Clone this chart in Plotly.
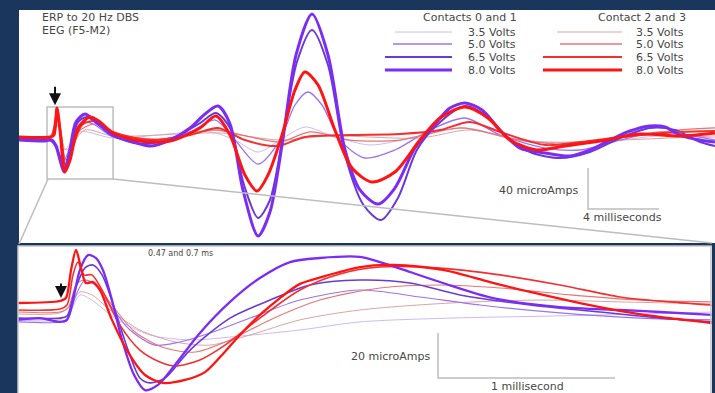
import plotly.graph_objects as go

W, H = 715, 393
NAVY = "#1b365d"
TEXT = "#474747"
FONT = "DejaVu Sans"
GRAY = "#bdbdbd"

def fx(x):
    return x / W

def fy(y):
    return 1 - y / H

# ---------------- top panel: ERP (time in ms, amplitude in microAmps) ----------------
top_t_p80 = [-2.03, -0.56, -0.17, 0.06, 0.28, 0.51, 0.79, 1.18, 1.69, 2.25, 3.27, 4.23, 5.35, 6.48, 7.61, 8.45, 9.18, 9.86, 10.59, 11.44, 12.11, 12.79, 13.58, 14.48, 15.38, 16.34, 17.18, 18.20, 19.15, 20.28, 21.41, 22.25, 23.10, 24.06, 25.07, 26.20, 27.61, 29.01, 30.14, 31.27, 32.39, 33.52, 34.37, 35.21, 36.34, 37.18]
top_v_p80 = [-2.0, -2.9, -2.0, -7.8, -21.5, -33.2, -16.6, 15.6, 23.4, 16.6, 2.9, -2.9, -7.8, -2.0, 9.8, 23.4, 31.2, 13.7, -50.7, -95.6, -72.2, -6.8, 81.0, 121.0, 81.0, -11.7, -50.7, -64.4, -48.8, -9.8, 13.7, 29.3, 34.1, 27.3, 7.8, -9.8, -14.6, -17.6, -11.7, -2.0, 6.8, 11.7, 10.7, 2.9, -2.0, -3.9]

top_t_p65 = [-2.03, -0.28, 0.06, 0.51, 0.85, 1.30, 1.80, 2.54, 3.27, 4.79, 6.48, 8.17, 9.07, 9.86, 10.65, 11.44, 12.11, 12.79, 13.63, 14.48, 15.38, 16.34, 17.38, 18.37, 19.32, 20.39, 21.52, 23.10, 24.23, 25.35, 26.76, 28.45, 30.14, 31.83, 33.52, 34.93, 36.34, 37.18]
top_v_p65 = [-1.0, -2.0, -7.8, -29.3, -11.7, 15.6, 20.5, 11.7, 2.0, -5.9, -1.0, 14.6, 24.4, 9.8, -45.9, -78.0, -60.5, -3.9, 74.1, 105.4, 71.2, -16.6, -65.4, -80.0, -58.5, -11.7, 12.7, 31.2, 22.4, 2.9, -13.7, -19.5, -13.7, 0.0, 9.8, 7.8, -3.9, -7.8]

top_t_p50 = [-2.03, -0.28, 0.51, 0.96, 1.52, 2.25, 3.27, 5.35, 7.61, 9.01, 10.14, 11.44, 12.68, 13.52, 14.25, 15.04, 16.06, 17.46, 19.15, 21.13, 23.10, 25.07, 27.61, 29.58, 31.83, 34.08, 37.18]
top_v_p50 = [-2.0, -2.0, -21.5, -2.0, 15.6, 12.7, 1.0, -3.9, 5.9, 17.6, -2.0, -25.4, -2.0, 32.2, 44.9, 32.2, -2.0, -19.5, -11.7, 7.8, 19.5, 2.9, -9.8, -11.7, -2.0, 5.9, -2.0]

top_t_p35 = [-2.03, -0.28, 0.51, 1.41, 3.27, 8.73, 10.14, 11.44, 12.68, 14.08, 15.49, 17.75, 20.56, 23.10, 26.20, 30.70, 34.08, 37.18]
top_v_p35 = [-1.0, -1.0, -11.7, 5.9, 0.0, 5.9, -2.0, -13.7, -2.0, 10.7, 2.9, -6.8, 2.0, 9.8, -2.0, -3.9, 2.0, 0.0]

top_t_r80 = [-2.03, -0.28, -0.06, 0.11, 0.28, 0.56, 0.85, 1.30, 1.97, 2.54, 3.27, 4.79, 6.48, 8.17, 9.07, 9.86, 10.70, 11.38, 12.00, 12.79, 13.52, 14.08, 14.82, 15.77, 16.73, 17.86, 19.15, 20.56, 21.69, 23.10, 24.39, 25.63, 27.15, 28.73, 30.70, 32.96, 35.21, 37.18]
top_v_r80 = [1.0, 1.0, 2.9, 29.3, 7.8, -33.2, -21.5, 9.8, 20.5, 15.6, 4.9, -2.9, -2.9, 9.8, 21.5, 2.9, -36.1, -51.7, -36.1, 2.9, 46.8, 64.4, 51.7, 7.8, -29.3, -42.9, -33.2, -2.0, 19.5, 30.2, 19.5, -2.0, -11.7, -7.8, -2.9, 3.9, 2.0, 4.9]

top_t_r65 = [-2.03, -0.28, 0.11, 0.34, 0.62, 0.96, 1.52, 2.25, 3.27, 5.35, 7.61, 9.18, 10.70, 12.51, 14.08, 16.62, 19.44, 21.69, 23.38, 25.07, 27.61, 29.58, 32.39, 35.21, 37.18]
top_v_r65 = [-1.0, -1.0, 25.4, 2.9, -29.3, -11.7, 12.7, 16.6, 5.9, -2.0, 2.9, 9.8, -2.0, -7.8, 1.0, 2.9, 3.9, 7.8, 15.6, 5.9, -6.8, -3.9, 2.0, 5.9, 6.8]

top_t_r50 = [-2.03, -0.28, 0.11, 0.62, 1.30, 2.25, 3.27, 5.92, 9.01, 10.99, 12.68, 14.37, 16.62, 19.44, 22.82, 25.63, 28.45, 31.83, 35.21, 37.18]
top_v_r50 = [0.0, 0.0, 19.5, -21.5, 5.9, 13.7, 3.9, -1.0, 7.8, 1.0, -3.9, 5.9, -2.0, -2.0, 9.8, 0.0, -5.9, 0.0, 7.8, 9.8]

top_t_r35 = [-2.03, -0.28, 0.17, 0.62, 1.69, 3.27, 9.30, 12.68, 15.49, 20.56, 23.38, 26.76, 31.83, 37.18]
top_v_r35 = [0.0, 0.0, 12.7, -11.7, 7.8, 2.0, 4.9, -2.0, 2.0, 0.0, 7.8, -3.9, -2.0, 2.0]

# ---------------- bottom panel: expanded first milliseconds ----------------
bot_t_p80 = [-0.277, -0.153, -0.040, 0.0, 0.034, 0.073, 0.119, 0.164, 0.203, 0.254, 0.311, 0.379, 0.441, 0.514, 0.610, 0.751, 0.921, 1.090, 1.260, 1.429, 1.655, 1.768, 1.938, 2.124, 2.407, 2.785, 3.124, 3.350, 3.644]
bot_v_p80 = [-4.4, -3.6, -5.3, -4.4, 4.4, 17.8, 24.4, 23.1, 17.8, 4.4, -13.3, -28.9, -35.6, -33.3, -24.4, -10.2, 3.6, 14.2, 21.3, 23.1, 23.6, 21.3, 16.9, 12.0, 5.3, 1.3, 0.0, -0.9, -2.2]

bot_t_p65 = [-0.277, -0.040, 0.0, 0.045, 0.102, 0.147, 0.198, 0.271, 0.345, 0.412, 0.469, 0.554, 0.695, 0.921, 1.147, 1.373, 1.655, 1.938, 2.220, 2.616, 3.011, 3.350, 3.644]
bot_v_p65 = [-3.6, -3.6, -2.7, 8.9, 18.7, 20.0, 15.6, 0.0, -17.8, -30.2, -32.4, -30.2, -17.8, -3.6, 4.4, 11.1, 13.3, 12.0, 6.7, 2.2, -0.9, -3.6, -5.3]

bot_t_p50 = [-0.277, -0.040, 0.006, 0.051, 0.102, 0.158, 0.243, 0.356, 0.497, 0.638, 0.808, 1.034, 1.316, 1.655, 1.994, 2.333, 2.785, 3.237, 3.644]
bot_v_p50 = [-5.3, -5.3, -3.6, 6.7, 13.3, 11.1, 2.2, -8.9, -15.6, -14.2, -10.2, -3.6, 4.4, 8.9, 5.8, 2.2, -1.3, -3.6, -4.4]

bot_t_p35 = [-0.277, -0.040, 0.017, 0.073, 0.141, 0.271, 0.469, 0.695, 0.977, 1.316, 1.655, 2.164, 2.729, 3.237, 3.644]
bot_v_p35 = [-4.4, -4.4, -0.9, 6.7, 4.4, -3.6, -11.1, -13.3, -11.6, -8.9, -5.3, -3.6, -2.7, -1.8, -0.9]

bot_t_r80 = [-0.277, -0.040, -0.006, 0.023, 0.051, 0.079, 0.107, 0.147, 0.186, 0.254, 0.345, 0.441, 0.542, 0.667, 0.780, 0.876, 0.977, 1.090, 1.203, 1.316, 1.458, 1.655, 1.842, 2.124, 2.390, 2.616, 2.898, 3.164, 3.407, 3.644]
bot_v_r80 = [3.1, 4.0, 5.3, 17.8, 26.7, 18.7, 12.0, 12.4, 8.9, -4.4, -18.7, -28.9, -32.4, -31.1, -27.6, -20.0, -11.1, -2.2, 5.3, 11.6, 15.1, 19.1, 20.0, 17.8, 12.4, 8.0, 3.1, -0.9, -3.6, -5.8]

bot_t_r65 = [-0.277, -0.040, 0.0, 0.034, 0.062, 0.096, 0.141, 0.198, 0.299, 0.412, 0.525, 0.610, 0.751, 0.893, 1.090, 1.316, 1.542, 1.768, 2.090, 2.446, 2.785, 3.124, 3.407, 3.644]
bot_v_r65 = [0.0, 0.4, 2.2, 15.6, 21.3, 15.6, 15.6, 8.9, -6.7, -17.8, -23.1, -24.9, -22.2, -15.6, -3.6, 8.9, 16.0, 19.1, 18.7, 15.6, 11.1, 5.8, 3.6, 2.2]

bot_t_r50 = [-0.277, -0.040, 0.006, 0.051, 0.096, 0.164, 0.254, 0.384, 0.554, 0.723, 0.921, 1.147, 1.429, 1.768, 2.107, 2.446, 2.842, 3.237, 3.644]
bot_v_r50 = [-0.9, -0.9, 0.9, 11.1, 13.3, 11.1, 2.2, -9.8, -16.9, -18.7, -13.3, -4.4, 4.4, 9.8, 11.1, 9.8, 6.7, 4.4, 3.6]

bot_t_r35 = [-0.277, -0.040, 0.017, 0.073, 0.141, 0.243, 0.412, 0.610, 0.808, 1.034, 1.316, 1.655, 2.164, 2.672, 3.124, 3.644]
bot_v_r35 = [-1.8, -1.3, 1.8, 8.0, 6.7, 0.0, -8.9, -14.2, -15.6, -11.1, -4.4, 0.0, 3.1, 4.4, 3.6, 2.7]

voltages = ["3.5 Volts", "5.0 Volts", "6.5 Volts", "8.0 Volts"]
purple_colors = ["#cdbaf5", "#9c72f2", "#6a3ad6", "#7b2cf5"]
red_colors = ["#dba5a5", "#ea7474", "#f23030", "#ff1414"]
top_widths = [1.0, 1.3, 2.0, 3.0]
bot_widths = [1.0, 1.1, 1.6, 2.3]

top_purple = [(top_t_p35, top_v_p35), (top_t_p50, top_v_p50), (top_t_p65, top_v_p65), (top_t_p80, top_v_p80)]
top_red = [(top_t_r35, top_v_r35), (top_t_r50, top_v_r50), (top_t_r65, top_v_r65), (top_t_r80, top_v_r80)]
bot_purple = [(bot_t_p35, bot_v_p35), (bot_t_p50, bot_v_p50), (bot_t_p65, bot_v_p65), (bot_t_p80, bot_v_p80)]
bot_red = [(bot_t_r35, bot_v_r35), (bot_t_r50, bot_v_r50), (bot_t_r65, bot_v_r65), (bot_t_r80, bot_v_r80)]

# scale bars (data units)
top_scale_t = [30.03, 30.03, 34.03]
top_scale_v = [-29.3, -69.3, -69.3]
bot_scale_t = [2.096, 2.096, 3.096]
bot_scale_v = [-10.2, -30.2, -30.2]

fig = go.Figure()

for i in range(4):
    for (t, v), col, nm in [(top_purple[i], purple_colors[i], "Contacts 0 and 1 " + voltages[i]),
                            (top_red[i], red_colors[i], "Contact 2 and 3 " + voltages[i])]:
        fig.add_trace(go.Scatter(x=t, y=v, mode="lines", name=nm,
                                 line=dict(color=col, width=top_widths[i], shape="spline", smoothing=0.8),
                                 xaxis="x", yaxis="y", hoverinfo="skip"))
for i in range(4):
    for (t, v), col, nm in [(bot_purple[i], purple_colors[i], "Contacts 0 and 1 " + voltages[i]),
                            (bot_red[i], red_colors[i], "Contact 2 and 3 " + voltages[i])]:
        fig.add_trace(go.Scatter(x=t, y=v, mode="lines", name=nm,
                                 line=dict(color=col, width=bot_widths[i], shape="spline", smoothing=0.8),
                                 xaxis="x2", yaxis="y2", hoverinfo="skip"))

fig.add_trace(go.Scatter(x=top_scale_t, y=top_scale_v, mode="lines",
                         line=dict(color=GRAY, width=1.5), xaxis="x", yaxis="y", hoverinfo="skip"))
fig.add_trace(go.Scatter(x=bot_scale_t, y=bot_scale_v, mode="lines",
                         line=dict(color=GRAY, width=1.5), xaxis="x2", yaxis="y2", hoverinfo="skip"))

ax_common = dict(visible=False, showgrid=False, zeroline=False, fixedrange=True)
fig.update_layout(
    width=W, height=H, margin=dict(l=0, r=0, t=0, b=0),
    paper_bgcolor=NAVY, plot_bgcolor="white", showlegend=False,
    xaxis=dict(domain=[fx(19), 1.0], range=[-2.028, 37.183], **ax_common),
    yaxis=dict(domain=[fy(243), fy(10)], range=[-102.44, 124.88], **ax_common),
    xaxis2=dict(domain=[fx(18), fx(712)], range=[-0.2768, 3.6441], anchor="y2", **ax_common),
    yaxis2=dict(domain=[0, fy(246)], range=[-36.89, 28.44], anchor="x2", **ax_common),
)

shapes = []
# inset box in top panel (data coords)
shapes.append(dict(type="rect", xref="x", yref="y", x0=-0.45, x1=3.27, y0=-40.0, y1=30.2,
                   line=dict(color=GRAY, width=1.5), layer="below"))
# connector lines
shapes.append(dict(type="line", xref="paper", yref="paper", x0=fx(48), y0=fy(179), x1=fx(19), y1=fy(244),
                   line=dict(color=GRAY, width=1.5)))
shapes.append(dict(type="line", xref="paper", yref="paper", x0=fx(113), y0=fy(179), x1=fx(712), y1=fy(243),
                   line=dict(color=GRAY, width=1.5)))
# bottom panel frame
shapes.append(dict(type="rect", xref="paper", yref="paper", x0=fx(18), x1=fx(711), y0=fy(394), y1=fy(246),
                   line=dict(color="#c8c8c8", width=1.5)))

# legend sample lines
leg_rows = [32, 44, 57, 70]
left_starts = [395, 393, 385, 385]
right_starts = [557, 560, 543, 543]
for i in range(4):
    shapes.append(dict(type="line", xref="paper", yref="paper", x0=fx(left_starts[i]), x1=fx(452),
                       y0=fy(leg_rows[i]), y1=fy(leg_rows[i]),
                       line=dict(color=purple_colors[i], width=top_widths[i])))
    shapes.append(dict(type="line", xref="paper", yref="paper", x0=fx(right_starts[i]), x1=fx(622),
                       y0=fy(leg_rows[i]), y1=fy(leg_rows[i]),
                       line=dict(color=red_colors[i], width=top_widths[i])))
fig.update_layout(shapes=shapes)

ann = []
def txt(text, x, y, anchor="left", size=11, color=TEXT):
    ann.append(dict(text=text, x=fx(x), y=fy(y), xref="paper", yref="paper", showarrow=False,
                    xanchor=anchor, yanchor="middle", font=dict(family=FONT, size=size, color=color)))

txt("ERP to 20 Hz DBS", 40, 18)
txt("EEG (F5-M2)", 40, 31)
txt("Contacts 0 and 1", 519, 17, "right")
txt("Contact 2 and 3", 688, 17, "right")
for i in range(4):
    txt(voltages[i], 518, leg_rows[i], "right")
    txt(voltages[i], 686, leg_rows[i], "right")
txt("40 microAmps", 581, 190, "right")
txt("4 milliseconds", 622, 218, "center")
txt("0.47 and 0.7 ms", 180, 253, "center", size=8)
txt("20 microAmps", 433, 356, "right")
txt("1 millisecond", 527, 386, "center")

# stimulus arrows
ann.append(dict(x=0.0, y=32.0, xref="x", yref="y", ax=0, ay=-20, text="", showarrow=True,
                arrowhead=2, arrowsize=1.2, arrowwidth=2, arrowcolor="#111111"))
ann.append(dict(x=-0.034, y=5.3, xref="x2", yref="y2", ax=0, ay=-16, text="", showarrow=True,
                arrowhead=2, arrowsize=1.2, arrowwidth=2, arrowcolor="#111111"))
fig.update_layout(annotations=ann)

fig.write_html("out.html")
